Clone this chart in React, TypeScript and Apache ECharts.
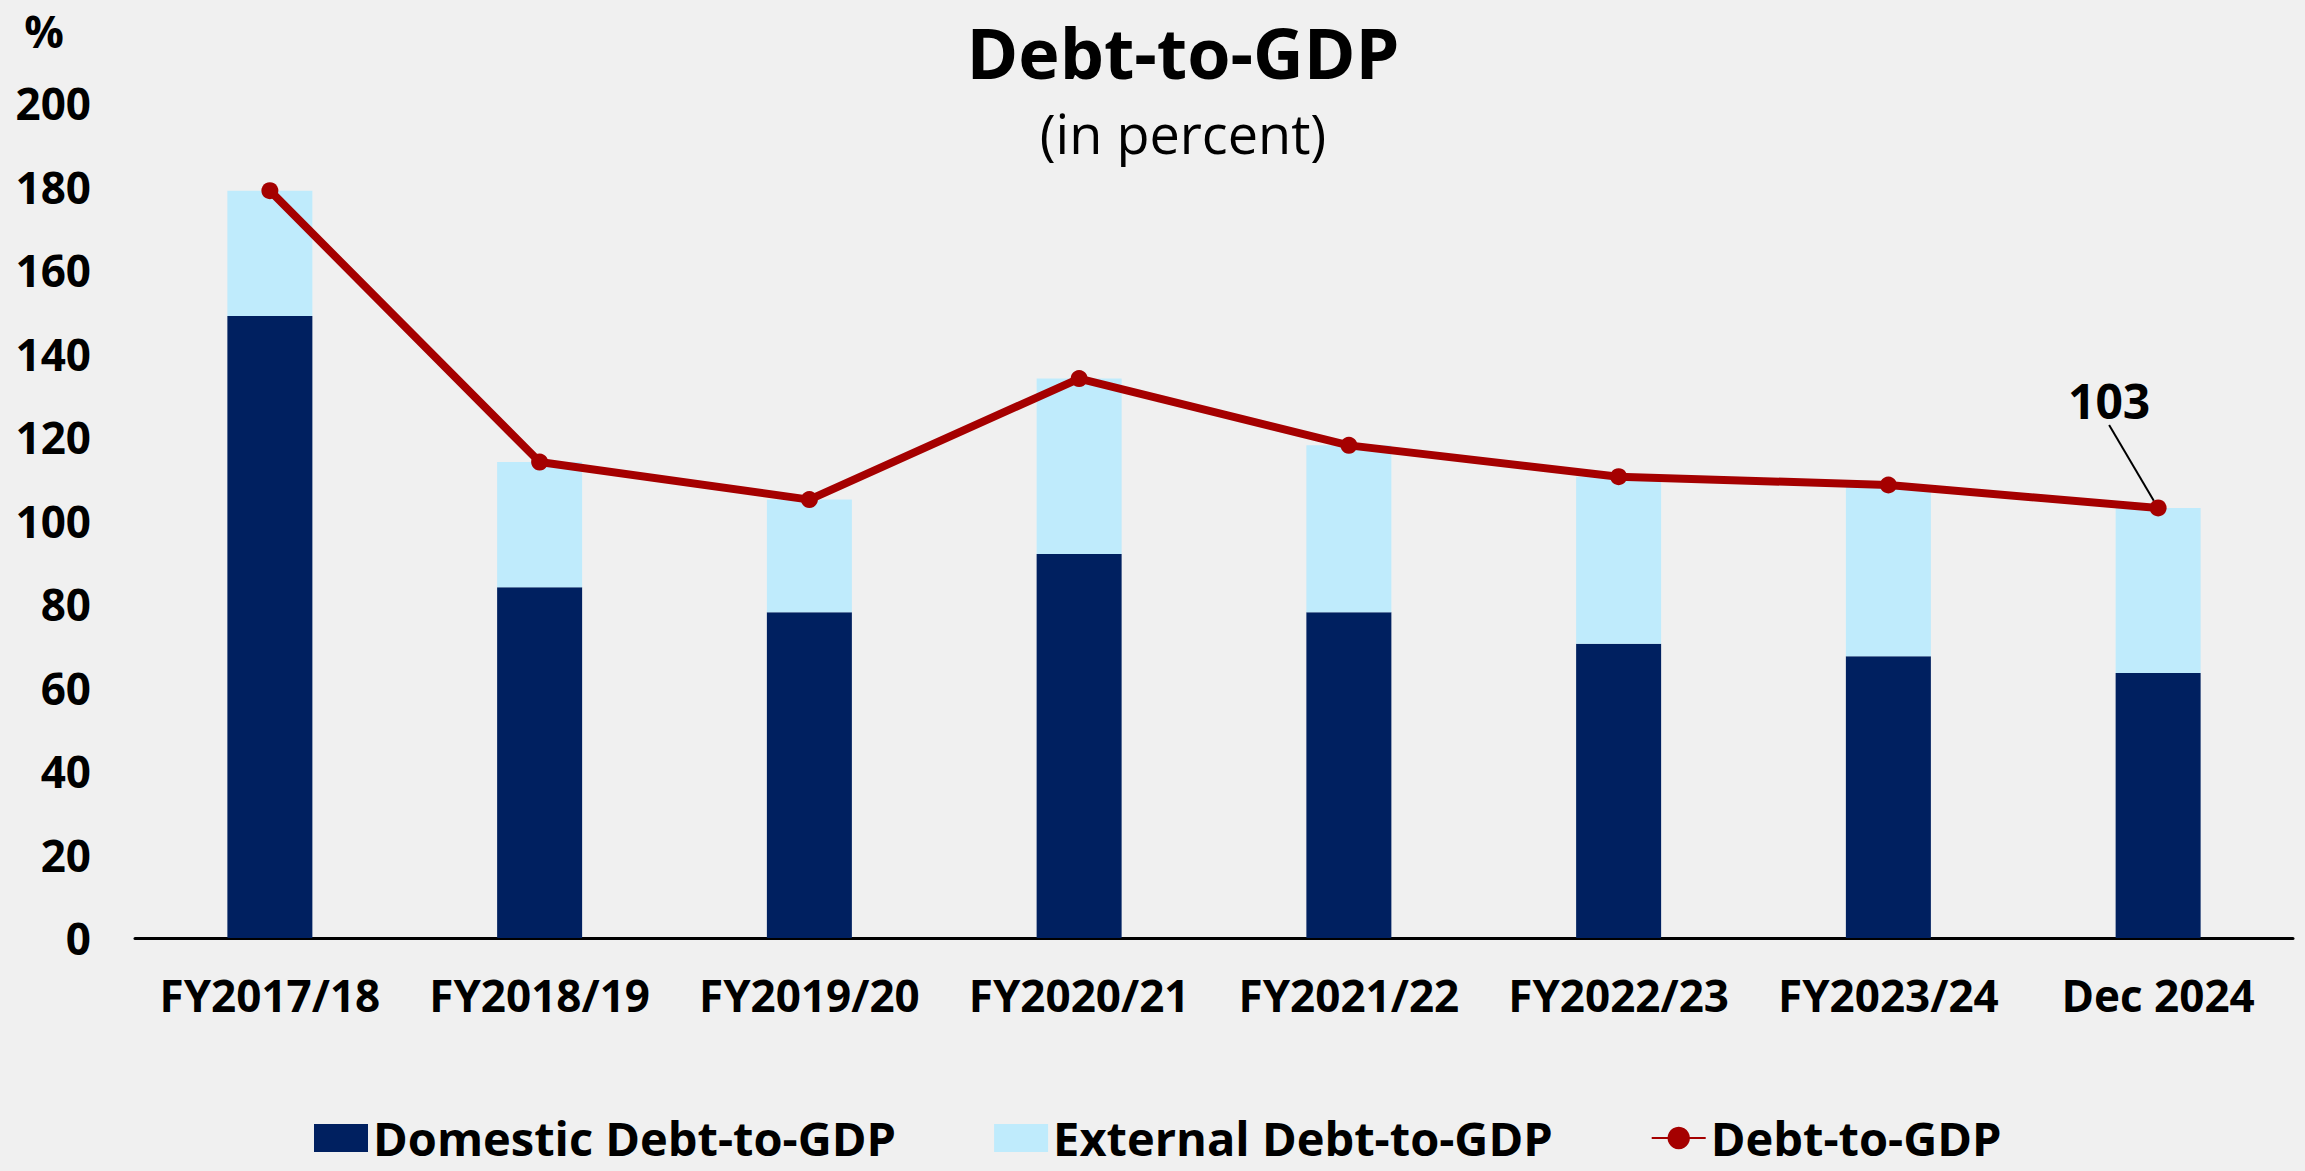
import React, { useEffect, useRef } from "react";
import * as echarts from "echarts";

const categories = [
  "FY2017/18",
  "FY2018/19",
  "FY2019/20",
  "FY2020/21",
  "FY2021/22",
  "FY2022/23",
  "FY2023/24",
  "Dec 2024",
];
const domesticDebt = [149, 84, 78, 92, 78, 70.5, 67.5, 63.5];
const externalDebt = [30, 30, 27, 42, 40, 40, 41, 39.5];
const totalDebt = [179, 114, 105, 134, 118, 110.5, 108.5, 103];
const yTicks = { min: 0, max: 200, interval: 20 };
const labelledIndex = 7;

const FONT = "'Open Sans', 'Noto Sans', sans-serif";

export default function App() {
  const ref = useRef<HTMLDivElement>(null);

  useEffect(() => {
    if (!ref.current) return;
    const chart = echarts.init(ref.current, undefined, { renderer: "svg" });
    const option: any = {
      animation: false,
      backgroundColor: "#F0F0F0",
      textStyle: { fontFamily: FONT, color: "#000" },
      title: [
        {
          text: "Debt-to-GDP",
          left: 1183,
          top: 14,
          textAlign: "center",
          padding: 0,
          textStyle: { fontFamily: FONT, fontSize: 70, lineHeight: 76, fontWeight: "bold", color: "#000" },
        },
        {
          text: "(in percent)",
          left: 1183,
          top: 104,
          textAlign: "center",
          padding: 0,
          textStyle: { fontFamily: FONT, fontSize: 54, lineHeight: 58, fontWeight: "normal", color: "#000" },
        },
        {
          text: "%",
          left: 44,
          top: 8,
          textAlign: "center",
          padding: 0,
          textStyle: { fontFamily: FONT, fontSize: 44, lineHeight: 46, fontWeight: "bold", color: "#000" },
        },
      ],
      legend: {
        left: 314,
        top: 1114,
        padding: 0,
        itemWidth: 54,
        itemHeight: 28,
        itemGap: 98,
        textStyle: { fontFamily: FONT, fontSize: 47, lineHeight: 48, fontWeight: "bold", color: "#000" },
        data: [
          { name: "Domestic Debt-to-GDP", icon: "rect" },
          { name: "External Debt-to-GDP", icon: "rect" },
          { name: "Debt-to-GDP" },
        ],
      },
      grid: { left: 135, right: 12, top: 103, bottom: 233, containLabel: false },
      xAxis: {
        type: "category",
        data: categories,
        axisLine: { show: true, lineStyle: { color: "#000", width: 3 } },
        axisTick: { show: false },
        axisLabel: {
          fontFamily: FONT,
          fontSize: 44,
          fontWeight: "bold",
          color: "#000",
          margin: 35,
          interval: 0,
        },
      },
      yAxis: {
        type: "value",
        min: yTicks.min,
        max: yTicks.max,
        interval: yTicks.interval,
        axisLine: { show: false },
        axisTick: { show: false },
        splitLine: { show: false },
        axisLabel: {
          fontFamily: FONT,
          fontSize: 44,
          fontWeight: "bold",
          color: "#000",
          margin: 44,
        },
      },
      series: [
        {
          name: "Domestic Debt-to-GDP",
          type: "bar",
          stack: "debt",
          barWidth: 85,
          itemStyle: { color: "#002060" },
          data: domesticDebt,
        },
        {
          name: "External Debt-to-GDP",
          type: "bar",
          stack: "debt",
          barWidth: 85,
          itemStyle: { color: "#BFEBFC" },
          data: externalDebt,
        },
        {
          name: "Debt-to-GDP",
          type: "line",
          z: 5,
          symbol: "circle",
          symbolSize: 17,
          lineStyle: { color: "#A50000", width: 8 },
          itemStyle: { color: "#A50000" },
          label: { show: false },
          labelLine: { show: true, lineStyle: { color: "#000", width: 2 } },
          labelLayout: (params: any) =>
            params.dataIndex === labelledIndex ? { dx: -49, dy: -107 } : {},
          data: totalDebt.map((v, i) =>
            i === labelledIndex
              ? {
                  value: v,
                  label: {
                    show: true,
                    position: "inside",
                    formatter: "{c}",
                    fontFamily: FONT,
                    fontSize: 48,
                    fontWeight: "bold",
                    color: "#000",
                  },
                  labelLine: { show: true, lineStyle: { color: "#000", width: 2 } },
                }
              : v
          ),
        },
      ],
    };
    chart.setOption(option);
    return () => chart.dispose();
  }, []);

  return (
    <div
      ref={ref}
      style={{ position: "fixed", left: 0, top: 0, width: 2305, height: 1171 }}
    />
  );
}
